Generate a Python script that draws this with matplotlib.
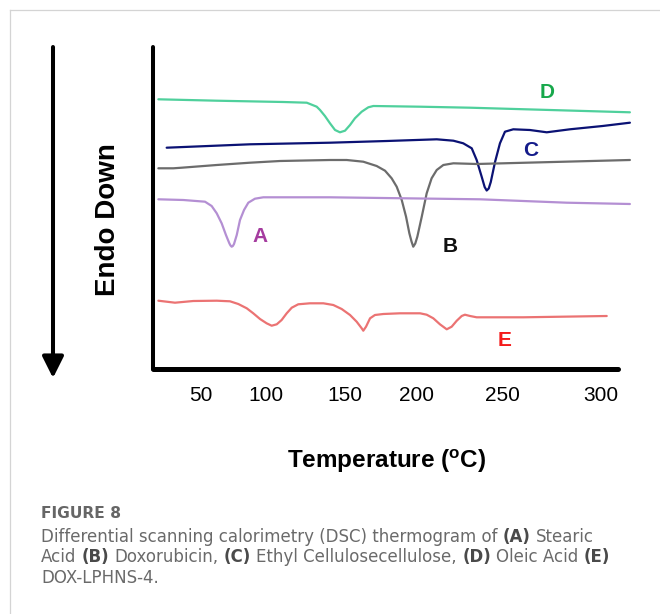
import numpy as np
import matplotlib
matplotlib.use("Agg")
import matplotlib.pyplot as plt
from matplotlib.patches import FancyArrowPatch
from matplotlib.lines import Line2D

# =========================================================
# DATA (y = heat flow, a.u., endo down)
# =========================================================
tick_temps = [50, 100, 150, 200, 250, 300]

# D - Oleic acid
d_T = [17.2, 62.1, 111.0, 125.8, 132.1, 134.2, 137.3, 140.5, 143.7, 146.8,
       150.0, 153.5, 156.9, 161.6, 166.2, 169.7, 201.8, 231.2, 314.6]
d_y = [269.7, 268.3, 267, 266.3, 262.3, 259, 253, 245.7, 239, 236.7,
       238.3, 244, 250.7, 257.3, 261.7, 263, 262.3, 261.3, 256.7]

# C - Ethyl cellulose
c_T = [23.6, 87.7, 140.5, 179.0, 211.6, 221.4, 227.2, 232.2, 235.1, 238.1,
       239.8, 241.0, 242.2, 243.4, 245.9, 248.8, 251.5, 255.7, 264.1, 272.6,
       284.3, 300.8, 314.6]
c_y = [221.3, 224.7, 226.3, 228, 229.7, 228.3, 225.7, 220.7, 209, 192,
       182, 178.5, 180.5, 187, 207, 225.7, 237.3, 239.7, 239, 236.7,
       239.7, 243, 246.3]

# B - Doxorubicin
b_T = [17.2, 28.7, 35.2, 62.1, 87.7, 108.9, 140.5, 151.2, 162.7, 172.0,
       177.8, 182.4, 185.9, 189.4, 192.4, 194.7, 196.2, 197.4, 198.8, 200.2,
       202.8, 205.7, 208.6, 211.6, 215.5, 221.4, 235.1, 250.7, 314.6]
b_y = [200.7, 200.7, 201.3, 204, 206.3, 208, 209, 209, 207.3, 203,
       198.3, 190.7, 182.3, 169, 152.3, 135.7, 127.5, 122.3, 125.5, 132.3,
       152.3, 175.7, 190.7, 199, 204, 205.7, 205, 205.7, 209]

# A - Stearic acid
a_T = [17.2, 36.4, 53.1, 58.2, 62.1, 65.9, 69.2, 71.8, 72.7, 73.6, 74.5,
       75.4, 77.5, 80.0, 83.1, 86.4, 91.5, 97.9, 140.5, 237.1, 282.7, 314.6]
a_y = [169.7, 169, 167.3, 163, 155.7, 145.7, 134, 125.7, 123.5, 122.3, 123,
       125, 134, 149, 159, 166.3, 170.3, 171.7, 171.7, 169.7, 166.3, 165]

# E - DOX-LPHNS-4
e_T = [17.2, 30.0, 44.1, 62.1, 72.3, 78.7, 85.2, 90.2, 95.4, 100.4, 103.6,
       106.8, 109.9, 113.1, 116.3, 120.4, 127.8, 136.3, 142.6, 147.9, 153.5,
       158.1, 161.6, 162.7, 164.6, 167.4, 170.8, 176.6, 188.2, 201.8, 205.7,
       209.6, 213.5, 217.5, 220.4, 223.4, 226.3, 228.2, 231.2, 235.1, 260.8,
       302.9]
e_y = [68.3, 66.3, 68, 68.3, 67.7, 65, 60.7, 55.7, 50, 45.7, 43.3,
       44.7, 49, 55.7, 61.3, 64.7, 65.7, 65.7, 64, 60, 54,
       47.3, 40.7, 38.3, 42.3, 50.7, 54, 55, 55.7, 55.7, 54.3,
       50.7, 44.7, 39.7, 42.3, 48.3, 53, 54.3, 53, 51.7, 51.7,
       53]

series = [
    ("D", d_T, d_y, "#4fd09c", "#17a84b", 272.7, 276),
    ("C", c_T, c_y, "#0b1274", "#141b8a", 264.6, 219),
    ("B", b_T, b_y, "#6c6c6c", "#111111", 219.4, 123),
    ("A", a_T, a_y, "#b48fd3", "#a53c9f", 95.4, 133),
    ("E", e_T, e_y, "#eb7373", "#f41b1b", 251.5, 28),
]

caption_title = "FIGURE 8"
caption_lines = [
    [("Differential scanning calorimetry (DSC) thermogram of ", False),
     ("(A)", True), (" Stearic", False)],
    [("Acid ", False), ("(B)", True), (" Doxorubicin, ", False), ("(C)", True),
     (" Ethyl Cellulosecellulose, ", False), ("(D)", True),
     (" Oleic Acid ", False), ("(E)", True)],
    [("DOX-LPHNS-4.", False)],
]

# =========================================================
# HAND-DRAWN TEMPERATURE AXIS (ticks are unevenly spaced)
# =========================================================
scale_T = [0, 50, 100, 150, 200, 250, 300, 320]
scale_u = [136, 201, 266, 345, 417, 502, 601, 640.6]


def fwd(t):
    return np.interp(t, scale_T, scale_u)


def inv(u):
    return np.interp(u, scale_u, scale_T)


# =========================================================
# PLOT
# =========================================================
plt.rcParams["font.family"] = ["Liberation Sans", "DejaVu Sans"]
plt.rcParams["mathtext.fontset"] = "custom"
plt.rcParams["mathtext.rm"] = "Liberation Sans"
plt.rcParams["mathtext.bf"] = "Liberation Sans:bold"

W, H = 660, 614
fig = plt.figure(figsize=(W / 100, H / 100), dpi=100)

ax = fig.add_axes([153 / W, (H - 369) / H, (632 - 153) / W, 322 / H])
ax.set_xscale("function", functions=(fwd, inv))
ax.set_xlim(13.08, 315.66)
ax.set_ylim(0, 322)

for name, T, y, col, lcol, lx, ly in series:
    ax.plot(T, y, color=col, lw=1.6, solid_joinstyle="round",
            solid_capstyle="round", clip_on=False)
    ax.text(lx, ly, name, color=lcol, fontsize=15, fontweight="bold",
            ha="center", va="center")

for s in ["top", "right"]:
    ax.spines[s].set_visible(False)
ax.spines["left"].set_linewidth(2.9)
ax.spines["bottom"].set_linewidth(3.6)
ax.spines["left"].set_capstyle("round")
ax.spines["bottom"].set_capstyle("round")
ax.spines["bottom"].set_bounds(13.08, 308.6)

ax.set_xticks(tick_temps)
ax.set_xticklabels([str(t) for t in tick_temps])
ax.minorticks_off()
ax.set_yticks([])
ax.tick_params(axis="x", length=0, pad=12, labelsize=15)

ax.set_xlabel("Temperature ($\\mathbf{^o}$C)", fontsize=17.5, fontweight="bold")
ax.xaxis.label.set_verticalalignment("center")
ax.xaxis.set_label_coords((387 - 153) / 479, -(461 - 369) / 322)
ax.set_ylabel("Endo Down", fontsize=20, fontweight="bold")
ax.yaxis.label.set_verticalalignment("center")
ax.yaxis.set_label_coords((108 - 153) / 479, (369 - 220) / 322)

# arrow on the left
arrow = FancyArrowPatch((53, H - 47), (53, H - 378), transform=None,
                        arrowstyle="-|>,head_length=1.3,head_width=0.65",
                        mutation_scale=10, lw=2.9, color="black",
                        shrinkA=0, shrinkB=0)
fig.add_artist(arrow)

# card border
fig.add_artist(Line2D([10 / W, 10 / W], [0, 1 - 10 / H], color="#d4d4d4", lw=0.9))
fig.add_artist(Line2D([10 / W, 1], [1 - 10 / H, 1 - 10 / H], color="#d4d4d4", lw=0.9))

# caption
cap_font = ["DejaVu Sans"]
cap_size = 12
fig.text(41 / W, 1 - 514 / H, caption_title, fontsize=11.2, color="#666666",
         fontweight="bold", family=cap_font, va="center")

renderer = fig.canvas.get_renderer()


def adv(s, bold):
    w = []
    for txt in ("|" + s + "|", "||"):
        t = fig.text(0, 0, txt, fontsize=cap_size, family=cap_font,
                     fontweight="bold" if bold else "normal")
        w.append(t.get_window_extent(renderer).width)
        t.remove()
    return w[0] - w[1]


y_line = 537
for parts in caption_lines:
    x = 41
    for txt, bold in parts:
        lead = len(txt) - len(txt.lstrip())
        x += adv(" " * lead, bold) if lead else 0
        core = txt.strip()
        fig.text(x / W, 1 - y_line / H, core, fontsize=cap_size, family=cap_font,
                 fontweight="bold" if bold else "normal",
                 color="#4a4a4a" if bold else "#6a6a6a", va="center")
        x += adv(core, bold)
        trail = len(txt) - len(txt.rstrip())
        x += adv(" " * trail, bold) if trail else 0
    y_line += 20.5

fig.savefig("out.png", dpi=100)
